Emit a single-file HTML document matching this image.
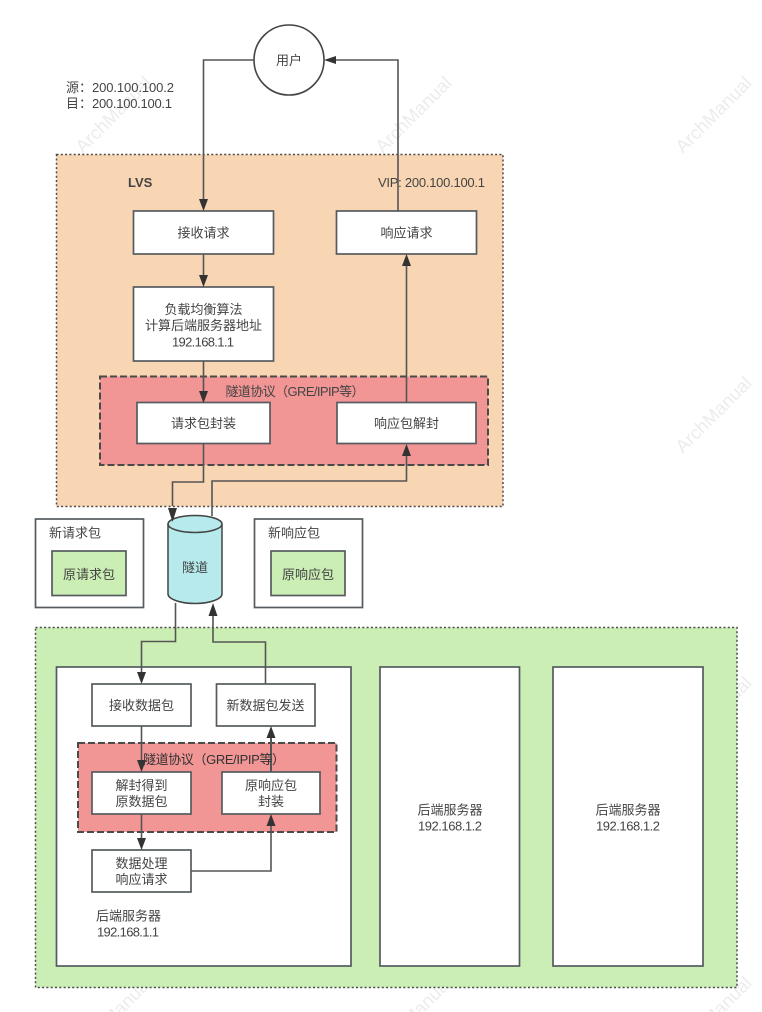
<!DOCTYPE html>
<html>
<head>
<meta charset="utf-8">
<style>
html,body{margin:0;padding:0;background:#fff;width:762px;height:1012px;overflow:hidden}
svg{display:block;filter:blur(.35px)}
text{font-family:"Liberation Sans","Noto Sans CJK SC",sans-serif;font-size:13px;fill:#444}
.m{text-anchor:middle}
.wm{font-size:18.5px;fill:#ececec}
.b{fill:#fff;stroke:#555b5f;stroke-width:1.7}
.l{fill:none;stroke:#555;stroke-width:1.6}
.a{fill:#333;stroke:none}
</style>
</head>
<body>
<svg width="762" height="1012" viewBox="0 0 762 1012" xmlns="http://www.w3.org/2000/svg">
<g>
<text class="wm" transform="translate(83,154) rotate(-45)">ArchManual</text>
<text class="wm" transform="translate(383,154) rotate(-45)">ArchManual</text>
<text class="wm" transform="translate(683,154) rotate(-45)">ArchManual</text>
<text class="wm" transform="translate(683,454) rotate(-45)">ArchManual</text>
<text class="wm" transform="translate(683,754) rotate(-45)">ArchManual</text>
<text class="wm" transform="translate(83,1054) rotate(-45)">ArchManual</text>
<text class="wm" transform="translate(383,1054) rotate(-45)">ArchManual</text>
<text class="wm" transform="translate(683,1054) rotate(-45)">ArchManual</text>
</g>

<!-- regions -->
<rect x="56.500" y="154.500" width="446.500" height="352" fill="#f8d5b3" stroke="#4a4a4a" stroke-width="1.500" stroke-dasharray="2 2.300"/>
<rect x="35.500" y="627.500" width="701.500" height="360" fill="#cbeeb5" stroke="#4a4a4a" stroke-width="1.500" stroke-dasharray="2 2.300"/>
<rect x="100" y="376.500" width="388" height="88.500" fill="#f19595" stroke="#4a4a4a" stroke-width="2" stroke-dasharray="7 3"/>

<!-- user -->
<circle cx="289" cy="60" r="35" fill="#fff" stroke="#444" stroke-width="1.600"/>
<text class="m" x="289" y="65">用户</text>

<text x="66" y="92">源：</text>
<text x="92" y="92" textLength="82">200.100.100.2</text>
<text x="66" y="108">目：</text>
<text x="92" y="108" textLength="80">200.100.100.1</text>
<text x="128" y="187" style="font-weight:bold">LVS</text>
<text x="378" y="187" textLength="107">VIP: 200.100.100.1</text>
<text x="225.500" y="396" textLength="139">隧道协议（GRE/IPIP等）</text>

<!-- LVS connectors -->
<path class="l" d="M254 60H203.500V200"/>
<path class="l" d="M398 211V60H334"/>
<path class="l" d="M203.500 254V277"/>
<path class="l" d="M203.500 361V392"/>
<path class="l" d="M406.500 402V264"/>
<path class="l" d="M203.500 444V482H172.500V506"/>
<path class="l" d="M212 516V481H406.500V454"/>

<!-- LVS boxes -->
<rect class="b" x="133.500" y="211" width="140" height="43"/>
<text class="m" x="203.500" y="237.500">接收请求</text>
<rect class="b" x="336.500" y="211" width="140" height="43"/>
<text class="m" x="406.500" y="237.500">响应请求</text>
<rect class="b" x="133.500" y="287" width="140" height="74"/>
<text class="m" x="203.500" y="314">负载均衡算法</text>
<text class="m" x="203.500" y="330">计算后端服务器地址</text>
<text x="172" y="346.500" textLength="62">192.168.1.1</text>
<rect class="b" x="137" y="402.500" width="133" height="41"/>
<text class="m" x="203.500" y="428">请求包封装</text>
<rect class="b" x="337" y="402.500" width="139" height="41"/>
<text class="m" x="406.500" y="428">响应包解封</text>

<!-- arrowheads LVS -->
<polygon class="a" points="199,199 208,199 203.500,211"/>
<polygon class="a" points="336,56 336,64 324,60"/>
<polygon class="a" points="199,275 208,275 203.500,287"/>
<polygon class="a" points="199,391 208,391 203.500,403"/>
<polygon class="a" points="402,266 411,266 406.500,254"/>
<polygon class="a" points="402,456 411,456 406.500,444"/>

<!-- packet boxes -->
<rect class="b" x="35.500" y="519" width="108" height="88.500"/>
<text x="49" y="537.500">新请求包</text>
<rect fill="#cbeeb5" stroke="#555b5f" stroke-width="1.700" x="52" y="551" width="74" height="44.500"/>
<text class="m" x="89" y="579">原请求包</text>
<rect class="b" x="254.500" y="519" width="108" height="88.500"/>
<text x="268" y="537.500">新响应包</text>
<rect fill="#cbeeb5" stroke="#555b5f" stroke-width="1.700" x="271" y="551" width="74" height="44.500"/>
<text class="m" x="308" y="579">原响应包</text>

<!-- cylinder -->
<path d="M168 524V594C168 599 180 603.500 195 603.500S222 599 222 594V524" fill="#b6eaec" stroke="#444" stroke-width="1.500"/>
<ellipse cx="195" cy="524" rx="27" ry="8.500" fill="#b6eaec" stroke="#444" stroke-width="1.500"/>
<text class="m" x="195" y="572">隧道</text>
<polygon class="a" points="168,508 177,508 172.500,522"/>

<!-- servers -->
<rect class="b" x="56.500" y="667" width="294.500" height="299"/>
<rect class="b" x="380" y="667" width="139.500" height="299"/>
<rect class="b" x="553" y="667" width="150" height="299"/>
<text class="m" x="450" y="814.500">后端服务器</text>
<text x="418" y="830.500" textLength="64">192.168.1.2</text>
<text class="m" x="628" y="814.500">后端服务器</text>
<text x="596" y="830.500" textLength="64">192.168.1.2</text>
<text x="96" y="920.500">后端服务器</text>
<text x="97" y="936.500" textLength="62">192.168.1.1</text>

<!-- tunnel connectors -->
<path class="l" d="M175.500 603V641.500H141.500V672"/>
<path class="l" d="M265.500 684V642H213V616"/>
<polygon class="a" points="208.500,616 217.500,616 213,603"/>
<polygon class="a" points="137,672 146,672 141.500,684"/>

<rect x="78" y="743" width="258.500" height="89" fill="#f19595" stroke="#4a4a4a" stroke-width="2" stroke-dasharray="7 3"/>

<path class="l" d="M141.500 726V762"/>
<path class="l" d="M141.500 814V840"/>
<path class="l" d="M191 871H271V826"/>
<path class="l" d="M271 772V738" style="stroke-width:2"/>

<text x="143" y="764" textLength="142" style="fill:#333">隧道协议（GRE/IPIP等）</text>

<rect class="b" x="92" y="684" width="99" height="42"/>
<text class="m" x="141.500" y="710">接收数据包</text>
<rect class="b" x="216.500" y="684" width="98.500" height="42"/>
<text class="m" x="265.500" y="710">新数据包发送</text>
<rect class="b" x="92" y="772" width="99" height="42"/>
<text class="m" x="141.500" y="790">解封得到</text>
<text class="m" x="141.500" y="806">原数据包</text>
<rect class="b" x="222" y="772" width="98" height="42"/>
<text class="m" x="271" y="790">原响应包</text>
<text class="m" x="271" y="806">封装</text>
<rect class="b" x="92" y="850" width="99" height="42"/>
<text class="m" x="141.500" y="868">数据处理</text>
<text class="m" x="141.500" y="884">响应请求</text>

<polygon class="a" points="137,760 146,760 141.500,772"/>
<polygon class="a" points="137,838 146,838 141.500,850"/>
<polygon class="a" points="266.500,826 275.500,826 271,814"/>
<polygon class="a" points="266.500,738 275.500,738 271,726"/>
</svg>
</body>
</html>
